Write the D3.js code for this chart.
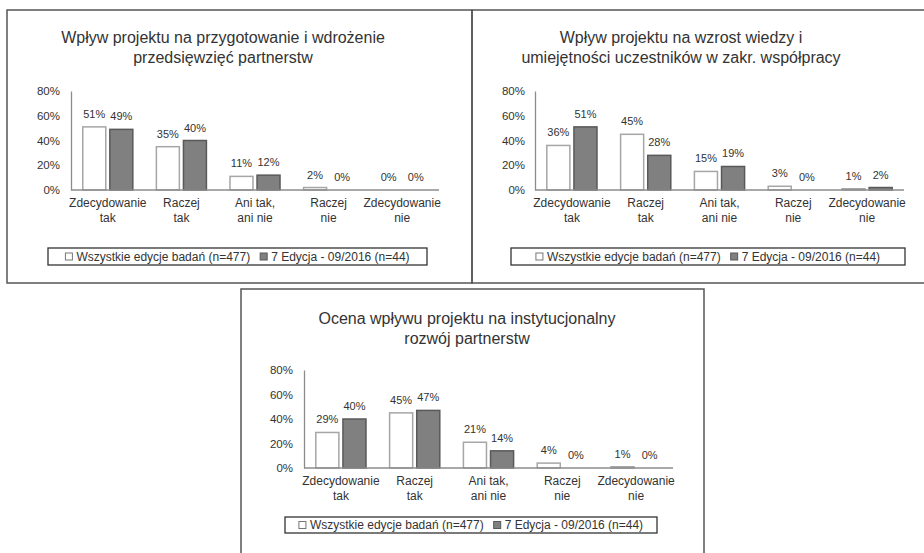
<!DOCTYPE html>
<html>
<head>
<meta charset="utf-8">
<script src="https://cdn.jsdelivr.net/npm/d3@7"></script>
<style>
  html, body { margin: 0; padding: 0; background: #fff; }
  svg { display: block; font-family: "Liberation Sans", Arial, sans-serif; }
</style>
</head>
<body>
<svg id="chart" width="924" height="553"></svg>
<script>
/* data */
const categories = [
  ["Zdecydowanie", "tak"],
  ["Raczej", "tak"],
  ["Ani tak,", "ani nie"],
  ["Raczej", "nie"],
  ["Zdecydowanie", "nie"]
];
const seriesNames = ["Wszystkie edycje badań (n=477)", "7 Edycja - 09/2016 (n=44)"];
const yTicks = [0, 20, 40, 60, 80];

const titles1 = ["Wpływ projektu na przygotowanie i wdrożenie", "przedsięwzięć partnerstw"];
const allEditions1 = [51, 35, 11, 2, 0];
const edition7_1  = [49, 40, 12, 0, 0];

const titles2 = ["Wpływ projektu na wzrost wiedzy i", "umiejętności uczestników w zakr. współpracy"];
const allEditions2 = [36, 45, 15, 3, 1];
const edition7_2  = [51, 28, 19, 0, 2];

const titles3 = ["Ocena wpływu projektu na instytucjonalny", "rozwój partnerstw"];
const allEditions3 = [29, 45, 21, 4, 1];
const edition7_3  = [40, 47, 14, 0, 0];

/* layout of the three panels */
const panels = [
  { title: titles1, a: allEditions1, b: edition7_1,
    box: [7, 10, 472, 283], x0: 71, x1: 439, y0: 190, yTop: 91, tickX: 60,
    titleX: 223, titleY: 43, legend: [48, 248, 427, 265] },
  { title: titles2, a: allEditions2, b: edition7_2,
    box: [472, 10, 940, 283], x0: 535, x1: 904, y0: 190, yTop: 91, tickX: 525,
    titleX: 681, titleY: 43, legend: [511, 248, 905, 265] },
  { title: titles3, a: allEditions3, b: edition7_3,
    box: [241, 289, 704, 570], x0: 304, x1: 673, y0: 468, yTop: 370, tickX: 293,
    titleX: 467, titleY: 324, legend: [285, 517, 657, 533] }
];

const TEXT = "#333";
const AXIS = "#8c8c8c";
const WHITE_STROKE = "#a6a6a6";
const DARK_FILL = "#808080";
const DARK_STROKE = "#595959";

const svg = d3.select("#chart");

panels.forEach(p => {
  const g = svg.append("g");

  // panel frame
  const [bx0, by0, bx1, by1] = p.box;
  g.append("rect")
    .attr("x", bx0).attr("y", by0)
    .attr("width", bx1 - bx0).attr("height", by1 - by0)
    .attr("fill", "none").attr("stroke", "#555").attr("stroke-width", 1.5);

  // title
  g.append("text")
    .attr("text-anchor", "middle")
    .attr("fill", TEXT)
    .style("font-size", "16px")
    .selectAll("tspan").data(p.title).enter().append("tspan")
    .attr("x", p.titleX)
    .attr("y", (d, i) => p.titleY + i * 20)
    .text(d => d);

  // scales
  const x = d3.scaleBand()
    .domain(d3.range(categories.length))
    .range([p.x0, p.x1])
    .paddingInner(0.32).paddingOuter(0.16);
  const xs = d3.scaleBand()
    .domain([0, 1])
    .range([0, x.bandwidth()])
    .paddingInner(0.15);
  const y = d3.scaleLinear().domain([0, 80]).range([p.y0, p.yTop]);

  // y axis
  const yAxis = g.append("g")
    .attr("transform", `translate(${p.x0},0)`)
    .call(d3.axisLeft(y).tickValues(yTicks).tickSize(0).tickPadding(p.x0 - p.tickX).tickFormat(d => d + "%"));
  yAxis.select(".domain").attr("stroke", AXIS).attr("stroke-width", 1.3);
  yAxis.selectAll("text").attr("fill", TEXT).style("font-size", "11.5px").style("font-family", null);

  // bars
  const rows = categories.map((c, i) => ({ i, vals: [p.a[i], p.b[i]] }));
  const grp = g.selectAll(".cat").data(rows).enter().append("g")
    .attr("transform", d => `translate(${x(d.i)},0)`);

  grp.selectAll("rect").data(d => d.vals.map((v, k) => ({ v, k }))).enter().append("rect")
    .attr("x", d => xs(d.k))
    .attr("y", d => y(d.v))
    .attr("width", xs.bandwidth())
    .attr("height", d => p.y0 - y(d.v))
    .attr("fill", d => d.k === 0 ? "#fff" : DARK_FILL)
    .attr("stroke", d => d.k === 0 ? WHITE_STROKE : DARK_STROKE)
    .attr("stroke-width", 1.5);

  grp.selectAll(".val").data(d => d.vals.map((v, k) => ({ v, k }))).enter().append("text")
    .attr("x", d => xs(d.k) + xs.bandwidth() / 2)
    .attr("y", d => y(d.v) - 9)
    .attr("text-anchor", "middle")
    .attr("fill", TEXT)
    .style("font-size", "11px")
    .text(d => d.v + "%");

  // x axis line + category labels
  g.append("line")
    .attr("x1", p.x0).attr("x2", p.x1)
    .attr("y1", p.y0).attr("y2", p.y0)
    .attr("stroke", AXIS).attr("stroke-width", 1.3);

  g.selectAll(".catlabel").data(categories).enter().append("text")
    .attr("text-anchor", "middle")
    .attr("fill", TEXT)
    .style("font-size", "12px")
    .each(function (d, i) {
      const t = d3.select(this);
      d.forEach((line, j) => t.append("tspan")
        .attr("x", x(i) + x.bandwidth() / 2)
        .attr("y", p.y0 + 17 + j * 15)
        .text(line));
    });

  // legend
  const [lx0, ly0, lx1, ly1] = p.legend;
  g.append("rect")
    .attr("x", lx0).attr("y", ly0)
    .attr("width", lx1 - lx0).attr("height", ly1 - ly0)
    .attr("fill", "#fff").attr("stroke", "#333").attr("stroke-width", 1.3);

  const lg = g.append("g");
  const midY = (ly0 + ly1) / 2;
  let cx = 0;
  seriesNames.forEach((name, k) => {
    if (k > 0) cx += 10;
    lg.append("rect")
      .attr("x", cx).attr("y", midY - 3.5)
      .attr("width", 7).attr("height", 7)
      .attr("fill", k === 0 ? "#fff" : DARK_FILL)
      .attr("stroke", k === 0 ? "#777" : DARK_STROKE)
      .attr("stroke-width", 1);
    cx += 11;
    const t = lg.append("text")
      .attr("x", cx).attr("y", midY + 4.3)
      .attr("fill", TEXT)
      .style("font-size", "12px")
      .text(name);
    cx += t.node().getComputedTextLength();
  });
  lg.attr("transform", `translate(${(lx0 + lx1) / 2 - cx / 2},0)`);
});
</script>
</body>
</html>
